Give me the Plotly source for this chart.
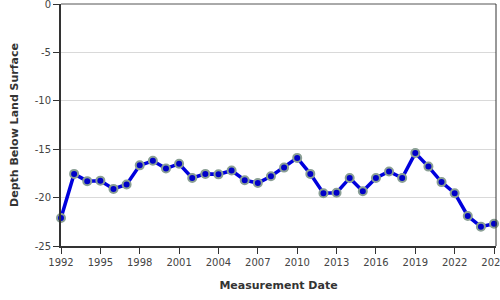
import plotly.graph_objects as go

years = list(range(1992, 2026))
depth = [-22.1, -17.55, -18.3, -18.25, -19.1, -18.65, -16.67, -16.2, -17.0, -16.5,
         -17.97, -17.55, -17.6, -17.2, -18.2, -18.5, -17.8, -16.9, -15.9, -17.55,
         -19.55, -19.5, -17.97, -19.35, -17.97, -17.3, -17.97, -15.4, -16.8, -18.4,
         -19.55, -21.9, -23.0, -22.7]
x_ticks = list(range(1992, 2026, 3))
y_ticks = [0, -5, -10, -15, -20, -25]

fig = go.Figure()
fig.add_trace(go.Scatter(
    x=years, y=depth, mode="lines+markers",
    line=dict(color="#0000dd", width=3.5),
    marker=dict(color="#0000c8", size=8, line=dict(color="#8a9f94", width=2)),
    cliponaxis=False, showlegend=False,
))

fig.update_layout(
    width=500, height=300,
    margin=dict(l=61, r=4, t=4, b=54),
    paper_bgcolor="white", plot_bgcolor="white",
    font=dict(family="DejaVu Sans", size=10, color="#333"),
    xaxis=dict(
        range=[1992, 2025.15], tickvals=x_ticks, ticktext=[str(v) for v in x_ticks],
        showgrid=False, zeroline=False, automargin=False,
        showline=True, linecolor="#333", linewidth=2,
        ticks="outside", ticklen=6, tickcolor="#333", tickwidth=1,
        tickfont=dict(size=10, color="#444"), ticklabeloverflow="allow",
        title=dict(text="<b>Measurement Date</b>", font=dict(size=11, color="#333"), standoff=14),
    ),
    yaxis=dict(
        range=[-25, 0], tickvals=y_ticks, ticktext=[str(v) for v in y_ticks],
        showgrid=True, gridcolor="#d9d9d9", gridwidth=1, zeroline=False, automargin=False,
        showline=True, linecolor="#333", linewidth=2,
        ticks="outside", ticklen=6, tickcolor="#333", tickwidth=1,
        tickfont=dict(size=10, color="#444"), ticklabeloverflow="allow",
        title=dict(text="<b>Depth Below Land Surface</b>", font=dict(size=11, color="#333"), standoff=14),
    ),
    shapes=[
        dict(type="line", xref="paper", yref="paper", x0=0, x1=1, y0=1, y1=1,
             line=dict(color="#555", width=1)),
        dict(type="line", xref="paper", yref="paper", x0=1, x1=1, y0=0, y1=1,
             line=dict(color="#333", width=1)),
    ],
)

fig.write_html("out.html")
